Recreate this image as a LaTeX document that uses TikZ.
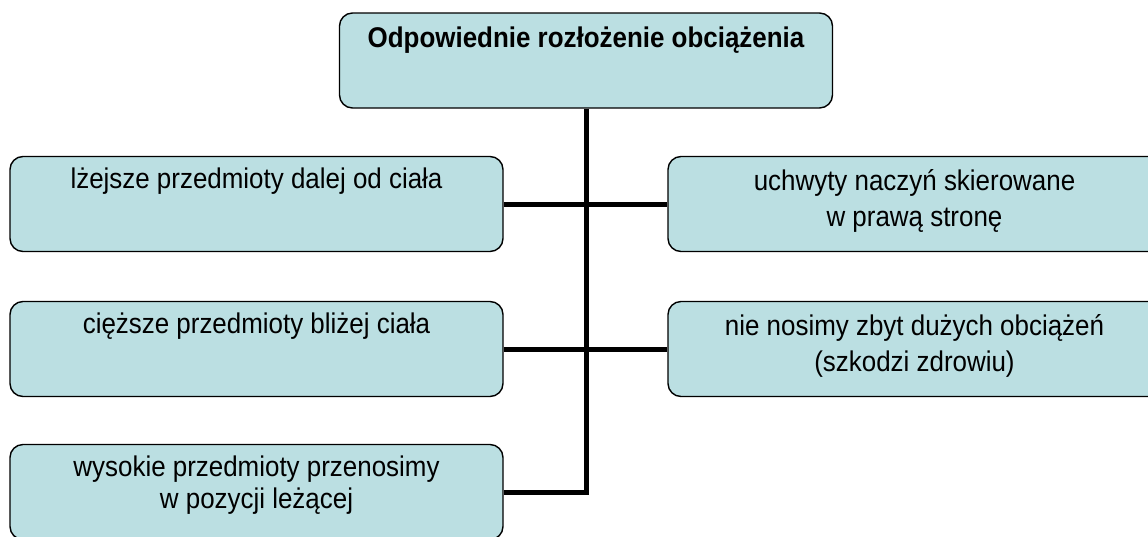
\documentclass[tikz,border=0pt]{standalone}
\usepackage{fontspec}
\setmainfont[FakeStretch=0.91]{Liberation Sans}
\definecolor{boxfill}{RGB}{187,223,226}
\begin{document}
\begin{tikzpicture}[x=1pt,y=-1pt,
  box/.style={draw=black, line width=1.4pt, fill=boxfill, rounded corners=13pt,
    minimum width=493pt, minimum height=95pt, inner sep=0pt},
  lbl/.style={font=\fontsize{28.5}{36}\selectfont, align=center, inner sep=0pt, anchor=base},
  link/.style={line width=5pt, line join=miter}]
\useasboundingbox (0,0) rectangle (1148,536);
\clip (0,0) rectangle (1148,536);
\node[box] (top) at (586,60.5) {};
\node[box] (L1) at (256.5,204) {};
\node[box] (L2) at (256.5,349) {};
\node[box] (L3) at (256.5,492) {};
\node[box] (R1) at (914.5,204) {};
\node[box] (R2) at (914.5,349) {};
% connectors
\draw[link] (top.south) -- (top.south |- L3.east) -- (L3.east);
\draw[link] (L1.east) -- (R1.west);
\draw[link] (L2.east) -- (R2.west);
% texts
\node[lbl, font=\fontsize{28.5}{36}\selectfont\bfseries] (ttop) at ([yshift=-35pt]top.north) {Odpowiednie rozłożenie obciążenia};
\node[lbl] (tL1) at ([yshift=-33pt]L1.north) {lżejsze przedmioty dalej od ciała};
\node[lbl] (tL2) at ([yshift=-33pt]L2.north) {cięższe przedmioty bliżej ciała};
\node[lbl, font=\fontsize{28.5}{32}\selectfont] (tL3) at ([yshift=-65pt]L3.north) {wysokie przedmioty przenosimy\\w pozycji leżącej};
\node[lbl] (tR1) at ([yshift=-71pt]R1.north) {uchwyty naczyń skierowane\\w prawą stronę};
\node[lbl] (tR2) at ([yshift=-71pt]R2.north) {nie nosimy zbyt dużych obciążeń\\(szkodzi zdrowiu)};
\end{tikzpicture}
\end{document}
